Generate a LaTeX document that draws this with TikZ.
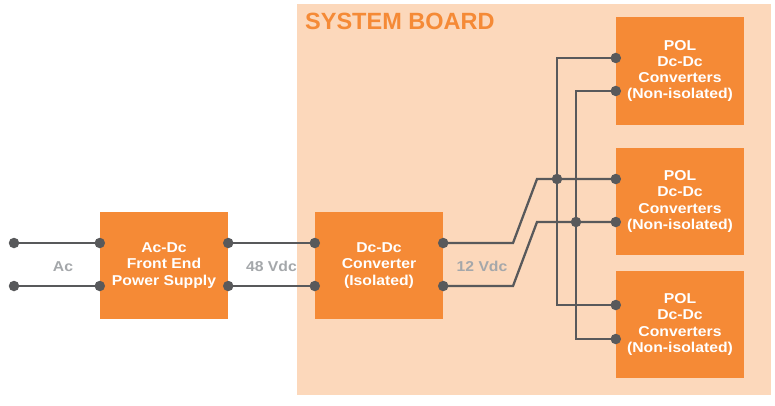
\documentclass[tikz,border=0pt]{standalone}
\usepackage{fontspec}
\setmainfont{Liberation Sans}
\newfontfamily\boxfont{Liberation Sans}[FakeStretch=1.1]
\definecolor{orng}{HTML}{F58A36}
\definecolor{boardc}{HTML}{FCD8BB}
\definecolor{wire}{HTML}{58595B}
\definecolor{lbl}{HTML}{A4A7AA}
\begin{document}
\begin{tikzpicture}[x=1pt,y=-1pt,
  blk/.style={fill=orng,draw=none,minimum width=128pt,minimum height=107pt,inner sep=0pt,
    text=white,align=center,font=\boxfont\bfseries\fontsize{14.3}{16.2}\selectfont},
  lab/.style={text=lbl,font=\boxfont\bfseries\fontsize{14.3}{16.2}\selectfont},
  wr/.style={draw=wire,line width=2.3pt},
  dot/.style={circle,fill=wire,inner sep=0pt,minimum size=10.5pt}]
\useasboundingbox (0,0) rectangle (775,406);
\fill[boardc] (297,4) rectangle (771,395);
\node[anchor=base west,inner sep=0pt,text=orng,font=\bfseries\fontsize{23.5}{26}\selectfont] (title) at (305,30) {SYSTEM BOARD};
\node[blk] (acdc) at (164,265.5) {Ac-Dc\\Front End\\Power Supply};
\node[blk] (dcdc) at (379,265.5) {Dc-Dc\\Converter\\(Isolated)};
\node[blk,minimum height=108pt] (pol1) at (680,71) {POL\\Dc-Dc\\Converters\\(Non-isolated)};
\node[blk] (pol2) at (680,201.5) {POL\\Dc-Dc\\Converters\\(Non-isolated)};
\node[blk] (pol3) at (680,324.5) {POL\\Dc-Dc\\Converters\\(Non-isolated)};
\node[lab] (ac) at (63,266.5) {Ac};
\node[lab] (v48) at (271.5,266.5) {48 Vdc};
\node[lab] (v12) at (482,266.5) {12 Vdc};
% terminal points
\coordinate (t1) at (14,243);
\coordinate (t2) at (14,286);
\coordinate (aw1) at (acdc.west |- t1);
\coordinate (aw2) at (acdc.west |- t2);
\coordinate (ae1) at (acdc.east |- t1);
\coordinate (ae2) at (acdc.east |- t2);
\coordinate (dw1) at (dcdc.west |- t1);
\coordinate (dw2) at (dcdc.west |- t2);
\coordinate (de1) at (dcdc.east |- t1);
\coordinate (de2) at (dcdc.east |- t2);
\coordinate (p1a) at (pol1.west |- 0,58);
\coordinate (p1b) at (pol1.west |- 0,91);
\coordinate (p2a) at (pol2.west |- 0,179);
\coordinate (p2b) at (pol2.west |- 0,222);
\coordinate (p3a) at (pol3.west |- 0,305);
\coordinate (p3b) at (pol3.west |- 0,339);
\coordinate (j1) at (557,179);
\coordinate (j2) at (576,222);
\coordinate (k1) at (513,243);
\coordinate (k2) at (537,179);
\coordinate (k3) at (513,286);
\coordinate (k4) at (537,222);
% wires
\draw[wr] (t1) -- (aw1);
\draw[wr] (t2) -- (aw2);
\draw[wr] (ae1) -- (dw1);
\draw[wr] (ae2) -- (dw2);
\draw[wr] (de1) -- (k1) -- (k2) -- (p2a);
\draw[wr] (de2) -- (k3) -- (k4) -- (p2b);
\draw[wr] (p1a) -| (j1) |- (p3a);
\draw[wr] (p1b) -| (j2) |- (p3b);
% dots
\foreach \p in {t1,t2,aw1,aw2,ae1,ae2,dw1,dw2,de1,de2,p1a,p1b,p2a,p2b,p3a,p3b,j1,j2}
  \node[dot] at (\p) {};
\end{tikzpicture}
\end{document}
